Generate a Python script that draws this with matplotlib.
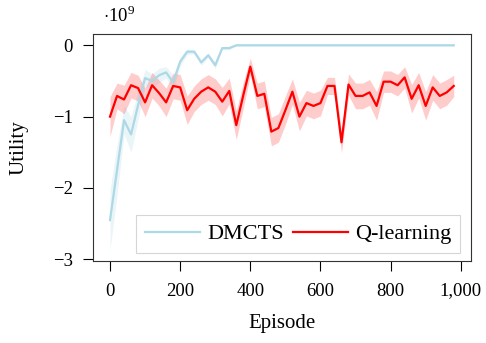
import numpy as np
import matplotlib
matplotlib.use("Agg")
import matplotlib.pyplot as plt
from matplotlib.ticker import FuncFormatter

plt.rcParams["font.family"] = ["Liberation Serif", "DejaVu Serif"]
plt.rcParams["mathtext.fontset"] = "custom"
plt.rcParams["mathtext.rm"] = "Liberation Serif"
plt.rcParams["font.size"] = 13.5

# utility values in units of 1e9, sampled every 20 episodes
episodes = np.arange(0, 1000, 20)

dmcts = [-2.45, -1.75, -1.05, -1.25, -0.84, -0.46, -0.50, -0.42, -0.38, -0.52,
         -0.23, -0.09, -0.09, -0.24, -0.14, -0.28, -0.04, -0.04, 0.0, 0.0,
         0.0, 0.0, 0.0, 0.0, 0.0, 0.0, 0.0, 0.0, 0.0, 0.0,
         0.0, 0.0, 0.0, 0.0, 0.0, 0.0, 0.0, 0.0, 0.0, 0.0,
         0.0, 0.0, 0.0, 0.0, 0.0, 0.0, 0.0, 0.0, 0.0, 0.0]
dmcts_err = [0.42, 0.35, 0.2, 0.25, 0.2, 0.12, 0.1, 0.1, 0.08, 0.1,
             0.06, 0.04, 0.03, 0.04, 0.03, 0.05, 0.02, 0.02, 0.01, 0.01,
             0.01, 0.01, 0.01, 0.01, 0.01, 0.01, 0.01, 0.01, 0.01, 0.01,
             0.01, 0.01, 0.01, 0.01, 0.01, 0.01, 0.01, 0.01, 0.01, 0.01,
             0.01, 0.01, 0.01, 0.01, 0.01, 0.01, 0.01, 0.01, 0.01, 0.01]

qlearn = [-1.00, -0.71, -0.76, -0.56, -0.60, -0.80, -0.56, -0.67, -0.80, -0.57,
          -0.59, -0.91, -0.75, -0.65, -0.59, -0.65, -0.79, -0.64, -1.12, -0.70,
          -0.30, -0.71, -0.68, -1.21, -1.16, -0.91, -0.65, -1.00, -0.81, -0.85,
          -0.81, -0.57, -0.57, -1.36, -0.55, -0.71, -0.71, -0.66, -0.85, -0.51,
          -0.51, -0.56, -0.45, -0.75, -0.56, -0.85, -0.59, -0.71, -0.66, -0.57]
qlearn_err = [0.28, 0.18, 0.2, 0.18, 0.18, 0.2, 0.18, 0.18, 0.2, 0.18,
              0.18, 0.2, 0.18, 0.18, 0.18, 0.18, 0.2, 0.18, 0.2, 0.18,
              0.12, 0.18, 0.18, 0.2, 0.2, 0.2, 0.18, 0.2, 0.18, 0.18,
              0.18, 0.12, 0.12, 0.15, 0.15, 0.18, 0.18, 0.18, 0.2, 0.15,
              0.15, 0.15, 0.15, 0.2, 0.18, 0.2, 0.18, 0.18, 0.18, 0.15]

dmcts = np.array(dmcts)
dmcts_err = np.array(dmcts_err)
qlearn = np.array(qlearn)
qlearn_err = np.array(qlearn_err)

fig = plt.figure(figsize=(4.86, 3.43), dpi=100)
ax = fig.add_axes([0.191, 0.239, 0.778, 0.661])

ax.fill_between(episodes, dmcts - dmcts_err, dmcts + dmcts_err,
                color="lightblue", alpha=0.25, lw=0)
ax.plot(episodes, dmcts, color="lightblue", lw=1.6, label="DMCTS")
ax.fill_between(episodes, qlearn - qlearn_err, qlearn + qlearn_err,
                color="red", alpha=0.2, lw=0)
ax.plot(episodes, qlearn, color="red", lw=1.6, label="Q-learning")

ax.set_xlim(-49, 1029)
ax.set_ylim(-3.024, 0.154)
ax.set_xticks([0, 200, 400, 600, 800, 1000])
ax.set_yticks([-3, -2, -1, 0])
ax.xaxis.set_major_formatter(FuncFormatter(lambda v, p: f"{v:,.0f}"))
ax.tick_params(direction="out", length=7.5, width=0.8,
               top=False, right=False, labelsize=13.5)
ax.tick_params(axis="x", pad=8)
ax.tick_params(axis="y", pad=7)
for s in ax.spines.values():
    s.set_color("#333333")
    s.set_linewidth(0.8)

ax.set_xlabel("Episode", fontsize=15)
ax.set_ylabel("Utility", fontsize=15)
ax.xaxis.set_label_coords(0.5, -0.234)
ax.yaxis.set_label_coords(-0.169, 0.5)
ax.text(0.026, 1.035, r"$\cdot 10^{9}$", transform=ax.transAxes,
        ha="left", va="bottom", fontsize=13.5)

leg = ax.legend(loc="lower right", bbox_to_anchor=(0.971, 0.034),
                borderaxespad=0, ncol=2, frameon=True, fancybox=False,
                handlelength=2.5, columnspacing=0.4, handletextpad=0.3,
                borderpad=0.4, fontsize=16)
leg.get_frame().set_edgecolor("#cccccc")
leg.get_frame().set_linewidth(0.8)

fig.savefig("out.png", dpi=100)
